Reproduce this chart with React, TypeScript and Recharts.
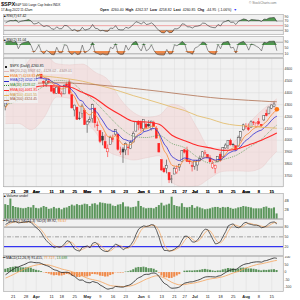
import React from "react";
import {
  ComposedChart,
  Line,
  Area,
  Bar,
  Cell,
  XAxis,
  YAxis,
  CartesianGrid,
  ReferenceLine,
  ReferenceDot,
} from "recharts";

// trading days shown on the chart
const dates = [
  "Mar 16", "Mar 17", "Mar 18", "Mar 21", "Mar 22", "Mar 23", "Mar 24", "Mar 25", "Mar 28", "Mar 29", "Mar 30", "Mar 31",
  "Apr 1", "Apr 4", "Apr 5", "Apr 6", "Apr 7", "Apr 8", "Apr 11", "Apr 12", "Apr 13", "Apr 14", "Apr 18", "Apr 19", "Apr 20", "Apr 21", "Apr 22", "Apr 25", "Apr 26", "Apr 27", "Apr 28", "Apr 29",
  "May 2", "May 3", "May 4", "May 5", "May 6", "May 9", "May 10", "May 11", "May 12", "May 13", "May 16", "May 17", "May 18", "May 19", "May 20", "May 23", "May 24", "May 25", "May 26", "May 27", "May 31",
  "Jun 1", "Jun 2", "Jun 3", "Jun 6", "Jun 7", "Jun 8", "Jun 9", "Jun 10", "Jun 13", "Jun 14", "Jun 15", "Jun 16", "Jun 17", "Jun 21", "Jun 22", "Jun 23", "Jun 24", "Jun 27", "Jun 28", "Jun 29", "Jun 30",
  "Jul 1", "Jul 5", "Jul 6", "Jul 7", "Jul 8", "Jul 11", "Jul 12", "Jul 13", "Jul 14", "Jul 15", "Jul 18", "Jul 19", "Jul 20", "Jul 21", "Jul 22", "Jul 25", "Jul 26", "Jul 27", "Jul 28", "Jul 29",
  "Aug 1", "Aug 2", "Aug 3", "Aug 4", "Aug 5", "Aug 8", "Aug 9", "Aug 10", "Aug 11", "Aug 12", "Aug 15", "Aug 16", "Aug 17",
];

const tickDates = ["Mar 21", "Mar 28", "Apr 1", "Apr 11", "Apr 18", "Apr 25", "May 2", "May 9", "May 16", "May 23", "Jun 1", "Jun 6", "Jun 13", "Jun 21", "Jun 27", "Jul 1", "Jul 11", "Jul 18", "Jul 25", "Aug 1", "Aug 8", "Aug 15"];
const tickLabels = ["21", "28", "Apr", "11", "18", "25", "May", "9", "16", "23", "Jun", "6", "13", "21", "27", "Jul", "11", "18", "25", "Aug", "8", "15"];

const opens = [
  4288, 4345, 4407, 4462, 4469, 4494, 4470, 4523, 4541, 4603, 4624, 4600,
  4541, 4547, 4572, 4495, 4474, 4494, 4462, 4438, 4394, 4449, 4385, 4390, 4473, 4489, 4385, 4255, 4279, 4187, 4223, 4253,
  4131, 4159, 4181, 4271, 4129, 4082, 4035, 3990, 3903, 3963, 4013, 4052, 4052, 3900, 3927, 3919, 3943, 3930, 3985, 4077, 4152,
  4150, 4096, 4137, 4134, 4097, 4148, 4102, 3975, 3838, 3764, 3764, 3729, 3675, 3716, 3733, 3774, 3821, 3920, 3913, 3826, 3786,
  3782, 3792, 3831, 3859, 3889, 3881, 3852, 3770, 3764, 3818, 3883, 3861, 3935, 3955, 4000, 3965, 3954, 3951, 4026, 4088,
  4113, 4105, 4107, 4154, 4116, 4156, 4134, 4171, 4227, 4225, 4269, 4284, 4260.4,
];
const highs = [
  4358, 4412, 4465, 4481, 4522, 4501, 4520, 4546, 4576, 4637, 4627, 4603,
  4547, 4583, 4594, 4503, 4521, 4521, 4464, 4471, 4453, 4453, 4411, 4471, 4489, 4512, 4386, 4299, 4279, 4240, 4308, 4269,
  4169, 4200, 4308, 4271, 4158, 4082, 4069, 4049, 3965, 4039, 4047, 4091, 4052, 3946, 3944, 3982, 3956, 3999, 4075, 4158, 4169,
  4166, 4177, 4143, 4169, 4165, 4164, 4120, 3975, 3839, 3779, 3837, 3729, 3708, 3779, 3790, 3802, 3914, 3928, 3946, 3837, 3819,
  3829, 3832, 3871, 3910, 3918, 3881, 3874, 3829, 3796, 3863, 3902, 3940, 3975, 3999, 4013, 3975, 3954, 4040, 4079, 4140,
  4144, 4141, 4168, 4162, 4151, 4186, 4135, 4211, 4258, 4280, 4301, 4326, 4262.37,
];
const lows = [
  4252, 4336, 4390, 4424, 4469, 4455, 4468, 4501, 4517, 4582, 4589, 4530,
  4507, 4540, 4515, 4450, 4450, 4482, 4409, 4388, 4393, 4392, 4367, 4390, 4455, 4385, 4268, 4201, 4175, 4170, 4189, 4129,
  4063, 4145, 4148, 4107, 4078, 3976, 3958, 3929, 3859, 3963, 3984, 4034, 3913, 3877, 3810, 3875, 3875, 3926, 3985, 4077, 4084,
  4074, 4074, 4096, 4109, 4081, 4111, 4017, 3900, 3744, 3724, 3722, 3640, 3639, 3716, 3717, 3743, 3821, 3889, 3820, 3800, 3738,
  3753, 3743, 3821, 3858, 3872, 3850, 3814, 3759, 3722, 3817, 3819, 3861, 3930, 3926, 3956, 3946, 3911, 3951, 3992, 4080,
  4096, 4079, 4107, 4128, 4107, 4129, 4112, 4163, 4201, 4218, 4262, 4277, 4258.82,
];
const closes = [
  4358, 4412, 4463, 4461, 4512, 4456, 4520, 4543, 4576, 4632, 4602, 4530,
  4546, 4583, 4525, 4481, 4500, 4488, 4413, 4397, 4447, 4393, 4392, 4462, 4459, 4394, 4272, 4296, 4175, 4184, 4288, 4132,
  4155, 4175, 4300, 4147, 4123, 3991, 4001, 3935, 3930, 4024, 4008, 4089, 3924, 3901, 3901, 3974, 3941, 3979, 4058, 4158, 4132,
  4101, 4177, 4109, 4121, 4161, 4116, 4018, 3901, 3750, 3735, 3790, 3667, 3675, 3765, 3760, 3796, 3912, 3900, 3822, 3819, 3785,
  3825, 3831, 3845, 3903, 3899, 3854, 3819, 3802, 3790, 3863, 3831, 3937, 3960, 3999, 3962, 3967, 3921, 4024, 4072, 4130,
  4119, 4091, 4155, 4152, 4145, 4140, 4122, 4210, 4207, 4280, 4297, 4305, 4260.85,
];

const ema7 = [
  4273, 4308, 4347, 4375, 4409, 4421, 4446, 4470, 4497, 4531, 4549, 4544,
  4544, 4554, 4547, 4530, 4523, 4514, 4489, 4466, 4461, 4444, 4431, 4439, 4444, 4431, 4391, 4367, 4319, 4285, 4286, 4247,
  4224, 4212, 4234, 4212, 4190, 4140, 4105, 4063, 4030, 4028, 4023, 4040, 4011, 3983, 3963, 3966, 3960, 3964, 3988, 4030, 4056,
  4067, 4094, 4098, 4104, 4118, 4117, 4092, 4044, 3971, 3912, 3881, 3828, 3790, 3784, 3778, 3782, 3815, 3836, 3832, 3829, 3818,
  3820, 3823, 3828, 3847, 3860, 3858, 3848, 3837, 3825, 3835, 3834, 3859, 3884, 3913, 3925, 3935, 3932, 3955, 3984, 4021,
  4045, 4057, 4081, 4099, 4110, 4118, 4119, 4142, 4158, 4188, 4215, 4238, 4249,
];
const ema12 = [
  4309, 4325, 4346, 4364, 4387, 4398, 4417, 4436, 4458, 4484, 4502, 4507,
  4513, 4524, 4524, 4517, 4515, 4511, 4496, 4481, 4476, 4463, 4452, 4454, 4455, 4445, 4419, 4400, 4365, 4337, 4330, 4299,
  4277, 4261, 4267, 4249, 4229, 4193, 4163, 4128, 4098, 4086, 4074, 4076, 4053, 4030, 4010, 4004, 3995, 3992, 4002, 4026, 4042,
  4051, 4071, 4077, 4084, 4096, 4099, 4086, 4058, 4011, 3968, 3941, 3899, 3864, 3849, 3835, 3829, 3842, 3851, 3846, 3842, 3833,
  3832, 3832, 3834, 3845, 3853, 3853, 3848, 3841, 3833, 3838, 3837, 3852, 3869, 3889, 3900, 3910, 3912, 3929, 3951, 3979,
  4000, 4014, 4036, 4054, 4068, 4079, 4086, 4105, 4121, 4145, 4169, 4190, 4202,
];

// slower overlays read every few sessions
const slowDays = ["Mar 16", "Mar 23", "Mar 30", "Apr 6", "Apr 13", "Apr 21", "Apr 28", "May 5", "May 12", "May 19", "May 26", "Jun 3", "Jun 10", "Jun 17", "Jun 27", "Jul 5", "Jul 12", "Jul 19", "Jul 26", "Aug 2", "Aug 9", "Aug 12", "Aug 17"];
const ma20 = [4300, 4332, 4389, 4455, 4504, 4494, 4411, 4323, 4210, 4103, 4034, 4023, 4040, 3973, 3937, 3857, 3808, 3838, 3872, 3939, 4009, 4071, 4128];
const bbUpper = [4460, 4522, 4689, 4719, 4644, 4634, 4641, 4573, 4510, 4343, 4234, 4193, 4210, 4303, 4267, 4097, 3932, 3937, 4001, 4139, 4249, 4301, 4349];
const bbLower = [4140, 4142, 4089, 4191, 4364, 4354, 4181, 4073, 3910, 3863, 3834, 3853, 3870, 3643, 3607, 3617, 3684, 3739, 3743, 3739, 3769, 3841, 3908];
const ema40 = [4380, 4398, 4437, 4458, 4456, 4448, 4403, 4354, 4275, 4212, 4159, 4154, 4134, 4043, 3996, 3956, 3936, 3915, 3925, 3961, 4001, 4030, 4062];
const ma100 = [4555, 4553, 4545, 4540, 4529, 4515, 4497, 4470, 4443, 4410, 4375, 4345, 4313, 4280, 4250, 4206, 4179, 4144, 4126, 4119, 4109, 4106, 4101];
const ma200 = [4470, 4474, 4478, 4482, 4484, 4482, 4476, 4468, 4458, 4448, 4436, 4424, 4412, 4398, 4385, 4372, 4360, 4350, 4343, 4336, 4330, 4326, 4324];

// volume in billions
const volumes = [
  3.2, 3.0, 4.4, 2.8, 2.6, 2.5, 2.4, 2.3, 2.4, 2.6, 2.5, 3.0,
  2.4, 2.3, 2.5, 2.8, 2.6, 2.2, 2.3, 2.6, 2.3, 2.4, 2.1, 2.4, 2.5, 2.8, 3.1, 2.9, 3.2, 3.0, 3.1, 3.3,
  3.2, 2.8, 3.3, 3.4, 3.1, 3.6, 3.5, 3.4, 3.3, 3.3, 2.9, 2.8, 3.1, 3.2, 3.6, 2.7, 2.7, 2.5, 2.6, 2.7, 3.9,
  2.8, 2.5, 2.3, 2.4, 2.4, 2.3, 2.6, 3.0, 3.5, 2.9, 3.1, 3.3, 4.8, 3.0, 2.8, 2.7, 3.4, 2.6, 2.5, 2.6, 3.0,
  2.4, 2.7, 2.5, 2.3, 2.1, 2.2, 2.3, 2.5, 2.6, 2.6, 2.4, 2.6, 2.5, 2.6, 2.4, 2.2, 2.3, 2.5, 2.6, 2.8,
  2.7, 2.6, 2.5, 2.3, 2.3, 2.3, 2.3, 2.6, 2.7, 2.4, 2.3, 2.5, 1.2,
];

const rsi7 = [
  62, 68, 72, 71, 74, 64, 69, 71, 73, 76, 70, 57,
  59, 64, 53, 46, 50, 47, 37, 34, 45, 37, 37, 51, 50, 41, 29, 34, 26, 28, 43, 31,
  34, 38, 55, 39, 37, 28, 30, 26, 26, 40, 38, 50, 34, 32, 32, 43, 39, 45, 56, 67, 63,
  57, 66, 55, 57, 62, 54, 40, 29, 20, 19, 29, 20, 21, 37, 36, 42, 58, 56, 45, 45, 40,
  47, 48, 51, 61, 60, 51, 45, 42, 41, 55, 49, 65, 68, 73, 64, 65, 55, 69, 74, 79,
  76, 69, 76, 75, 74, 73, 68, 78, 77, 83, 84, 85, 67.42,
];
const rsi2 = [
  92, 97, 98, 88, 95, 45, 78, 87, 92, 96, 65, 20,
  40, 72, 25, 10, 35, 22, 5, 3, 55, 18, 17, 72, 68, 18, 4, 22, 4, 8, 70, 15,
  28, 42, 88, 18, 12, 3, 8, 3, 3, 55, 45, 80, 12, 6, 7, 70, 35, 62, 88, 96, 55,
  30, 80, 30, 42, 72, 33, 8, 3, 1, 1, 40, 8, 12, 72, 65, 78, 96, 80, 20, 18, 7,
  50, 58, 72, 92, 85, 35, 15, 8, 5, 75, 45, 88, 92, 96, 50, 55, 15, 80, 90, 96,
  75, 35, 78, 72, 62, 52, 30, 90, 85, 96, 97, 98, 31.04,
];
const stoK = [
  88, 93, 96, 96, 97, 93, 94, 95, 96, 97, 94, 86,
  78, 72, 62, 48, 38, 30, 24, 16, 20, 18, 20, 28, 38, 36, 24, 12, 8, 6, 18, 20,
  22, 16, 30, 33, 28, 14, 8, 5, 5, 12, 20, 28, 24, 18, 10, 16, 18, 26, 38, 58, 74,
  80, 84, 82, 84, 88, 86, 70, 48, 22, 8, 8, 6, 8, 12, 18, 24, 40, 52, 52, 44, 34,
  34, 40, 52, 66, 74, 72, 58, 42, 28, 30, 36, 52, 66, 84, 88, 90, 80, 78, 82, 92,
  95, 90, 88, 86, 86, 84, 78, 80, 84, 92, 95, 96, 89.92,
];
const stoD = [
  82, 88, 92, 95, 96, 95, 95, 94, 95, 96, 96, 92,
  86, 79, 71, 61, 49, 39, 31, 23, 20, 18, 19, 22, 29, 34, 33, 24, 15, 9, 11, 15,
  20, 19, 23, 26, 30, 25, 17, 9, 6, 7, 12, 20, 24, 23, 17, 15, 15, 20, 27, 41, 57,
  71, 79, 82, 83, 85, 86, 81, 68, 47, 26, 13, 7, 7, 9, 13, 18, 27, 39, 48, 49, 43,
  37, 36, 42, 53, 64, 71, 68, 57, 43, 33, 31, 39, 51, 67, 79, 87, 86, 83, 80, 84,
  90, 92, 91, 88, 87, 85, 83, 81, 81, 85, 90, 94, 93.67,
];
const macd = [
  -18, -6, 8, 18, 30, 34, 41, 48, 55, 64, 67, 64,
  62, 62, 57, 49, 43, 37, 25, 15, 11, 3, -3, -2, -1, -7, -21, -29, -44, -54, -53, -64,
  -70, -72, -63, -68, -73, -87, -96, -107, -114, -110, -107, -96, -98, -100, -100, -93, -89, -81, -68, -50, -38,
  -31, -19, -15, -15, -8, -6, -13, -30, -55, -75, -84, -99, -108, -107, -105, -99, -85, -74, -70, -66, -65,
  -60, -55, -49, -40, -33, -31, -31, -32, -33, -27, -24, -13, -3, 8, 13, 18, 18, 29, 41, 50,
  55, 57, 63, 66, 68, 68, 66, 74, 77, 83, 89, 94, 91.415,
];
const macdSignal = [
  -40, -33, -25, -17, -8, 1, 9, 17, 24, 32, 38, 43,
  47, 50, 51, 51, 49, 47, 42, 37, 31, 26, 20, 16, 12, 8, 2, -4, -12, -21, -27, -34,
  -41, -47, -50, -54, -57, -63, -70, -77, -85, -90, -93, -94, -95, -96, -97, -96, -94, -92, -87, -80, -72,
  -64, -55, -47, -41, -34, -28, -25, -26, -32, -40, -49, -59, -69, -76, -82, -85, -85, -83, -80, -77, -75,
  -72, -68, -64, -59, -54, -49, -46, -43, -41, -38, -35, -31, -25, -19, -12, -6, -1, 5, 12, 20,
  27, 33, 39, 44, 49, 53, 55, 59, 63, 67, 71, 75, 77.727,
];
const macdHist = [
  22, 27, 33, 35, 38, 33, 32, 31, 31, 32, 29, 21,
  15, 12, 6, -2, -6, -10, -17, -22, -20, -23, -23, -18, -13, -15, -23, -25, -32, -33, -26, -30,
  -29, -25, -13, -14, -16, -24, -26, -30, -29, -20, -14, -2, -3, -4, -3, 3, 5, 11, 19, 30, 34,
  33, 36, 32, 26, 26, 22, 12, -4, -23, -35, -35, -40, -39, -31, -23, -14, 0, 9, 10, 11, 10,
  12, 13, 15, 19, 21, 18, 15, 11, 8, 11, 11, 18, 22, 27, 25, 24, 19, 24, 29, 30,
  28, 24, 24, 22, 19, 15, 11, 15, 14, 16, 18, 19, 13.688,
];

const rows = dates.map((d, i) => ({
  i,
  date: d,
  open: opens[i],
  high: highs[i],
  low: lows[i],
  close: closes[i],
  prev: i > 0 ? closes[i - 1] : opens[i],
  ema7: ema7[i],
  ema12: ema12[i],
  vol: volumes[i],
  rsi7: rsi7[i],
  rsi2: rsi2[i],
  k: stoK[i],
  d: stoD[i],
  macd: macd[i],
  signal: macdSignal[i],
  hist: macdHist[i],
}));

const slowRows = slowDays.map((d, n) => ({
  i: dates.indexOf(d),
  ma20: ma20[n],
  bbUp: bbUpper[n],
  bbLo: bbLower[n],
  ema40: ema40[n],
  ma100: ma100[n],
  ma200: ma200[n],
}));

const tickIdx = tickDates.map((d) => dates.indexOf(d));

const FONT = "'Liberation Sans', Arial, sans-serif";
const X_DOMAIN = [-0.6, 108.4];
const BG = "#f1f1f1";

function DateTick(props: any) {
  const { x, y, payload } = props;
  const label = tickLabels[tickIdx.indexOf(payload.value)] ?? "";
  const bold = /^[A-Z]/.test(label);
  return (
    <text x={x} y={y + 4.3} fontSize={4} fontWeight={bold ? 700 : 400} textAnchor="middle" fill="#222" fontFamily={FONT}>
      {label}
    </text>
  );
}

function Candle(props: any) {
  const { x, y, width, height, payload } = props;
  if (x == null || !payload) return null;
  const { open, close, high, low, prev } = payload;
  const yHi = Math.min(y, y + height);
  const yLo = Math.max(y, y + height);
  const span = high - low;
  const k = span > 0 ? (yLo - yHi) / span : 0;
  const cx = x + width / 2;
  const yo = yHi + (high - open) * k;
  const yc = yHi + (high - close) * k;
  const color = close >= prev ? "#3c3c3c" : "#ff2424";
  const hollow = close >= open;
  const top = Math.min(yo, yc);
  const h = Math.max(0.6, Math.abs(yo - yc));
  return (
    <g>
      <line x1={cx} x2={cx} y1={yHi} y2={yLo} stroke={color} strokeWidth={0.6} />
      <rect x={cx - 1} y={top} width={2} height={h} fill={hollow ? "#f7f7f7" : color} stroke={color} strokeWidth={0.45} />
    </g>
  );
}

function Panel({ top, height, data, yDomain, yTicks = [], yFmt, axisH = 0, bg = false, hGrid = false, children }: any) {
  return (
    <div style={{ position: "absolute", left: 0, top, width: 300, height }}>
      <ComposedChart width={300} height={height} data={data} margin={{ top: 0, right: 0, bottom: 0, left: 4 }}>
        {bg && <CartesianGrid fill={BG} stroke="#dcdcdc" strokeWidth={0.5} horizontal={hGrid} />}
        <XAxis
          type="number"
          dataKey="i"
          domain={X_DOMAIN}
          allowDataOverflow
          ticks={tickIdx}
          interval={0}
          height={axisH}
          tick={axisH ? <DateTick /> : false}
          tickLine={false}
          axisLine={false}
          tickSize={0}
        />
        <YAxis
          orientation="right"
          width={17}
          domain={yDomain}
          allowDataOverflow
          ticks={yTicks}
          interval={0}
          tick={yTicks.length ? { fontSize: 3.4, fill: "#333", fontFamily: FONT } : false}
          tickFormatter={yFmt}
          tickLine={false}
          axisLine={false}
          tickSize={0}
          tickMargin={1.5}
        />
        {children}
      </ComposedChart>
    </div>
  );
}

const txt = (left: number, top: number, size = 3.5, extra: any = {}) => ({
  position: "absolute" as const,
  left,
  top,
  fontSize: size,
  lineHeight: 1,
  whiteSpace: "nowrap" as const,
  fontFamily: FONT,
  color: "#111",
  ...extra,
});

const legend = [
  { text: "$SPX (Daily) 4260.85", color: "#111", mark: "box" },
  { text: "BB(20,2.0) 3907.62 - 4128.02 - 4349.01", color: "#a88080", mark: "#e2b8b8" },
  { text: "EMA(7) 4248.83", color: "#f07a1e", mark: "#f07a1e" },
  { text: "EMA(12) 4202.21", color: "#2a2ac8", mark: "#2a2ac8" },
  { text: "MA(20) 4128.02", color: "#2f8a2f", mark: "dot" },
  { text: "EMA(40) 4061.85", color: "#ff2020", mark: "#ff2020" },
  { text: "MA(100) 4101.55", color: "#c89a3c", mark: "#e2b860" },
  { text: "MA(200) 4324.45", color: "#a0583a", mark: "#b07050" },
];

export default function App() {
  const na = { isAnimationActive: false };
  return (
    <div style={{ position: "fixed", left: 0, top: 0, width: 300, height: 300, background: "#fff", overflow: "hidden" }}>
      {/* RSI(7) */}
      <Panel top={14} height={21} data={rows} yDomain={[10, 100]} yTicks={[90, 70, 50, 30]} bg>
        <ReferenceLine y={70} stroke="#666" strokeWidth={0.5} />
        <ReferenceLine y={50} stroke="#f07070" strokeWidth={0.6} />
        <ReferenceLine y={30} stroke="#666" strokeWidth={0.5} />
        <Area dataKey={(r: any) => [70, Math.max(70, r.rsi7)]} type="linear" fill="#4e9a4e" fillOpacity={1} stroke="none" {...na} />
        <Area dataKey={(r: any) => [Math.min(30, r.rsi7), 30]} type="linear" fill="#f08a4a" fillOpacity={1} stroke="none" {...na} />
        <Line dataKey="rsi7" type="linear" stroke="#333" strokeWidth={0.6} dot={false} {...na} />
      </Panel>

      {/* RSI(2) */}
      <Panel top={36} height={22} data={rows} yDomain={[-19, 133]} yTicks={[90, 50, 10]} bg>
        <ReferenceLine y={90} stroke="#666" strokeWidth={0.5} />
        <ReferenceLine y={10} stroke="#666" strokeWidth={0.5} />
        <Area dataKey={(r: any) => [70, Math.max(70, r.rsi2)]} type="linear" fill="#4e9a4e" fillOpacity={1} stroke="none" {...na} />
        <Area dataKey={(r: any) => [Math.min(30, r.rsi2), 30]} type="linear" fill="#f08a4a" fillOpacity={1} stroke="none" {...na} />
        <Line dataKey="rsi2" type="linear" stroke="#333" strokeWidth={0.5} dot={false} {...na} />
      </Panel>

      {/* price: background, bands */}
      <Panel top={58} height={135} data={slowRows} yDomain={[3607, 4692]} yTicks={[4600, 4500, 4400, 4300, 4200, 4100, 4000, 3900, 3800, 3700]} axisH={6} bg hGrid>
        <Area dataKey={(r: any) => [r.bbLo, r.bbUp]} type="monotone" fill="#f2d4d4" fillOpacity={0.55} stroke="#e6c4c4" strokeWidth={0.4} {...na} />
      </Panel>
      {/* price: candles + fast averages */}
      <Panel top={58} height={135} data={rows} yDomain={[3607, 4692]} axisH={6}>
        <Bar dataKey={(r: any) => [r.low, r.high]} barSize={2} shape={<Candle />} {...na} />
        <Line dataKey="ema7" type="monotone" stroke="#f7882f" strokeWidth={0.8} dot={false} {...na} />
        <Line dataKey="ema12" type="monotone" stroke="#2a2ad0" strokeWidth={0.8} dot={false} {...na} />
        <ReferenceDot x={106} y={closes[106]} r={2.3} fill="#ff7410" stroke="none" />
      </Panel>
      {/* price: slow averages */}
      <Panel top={58} height={135} data={slowRows} yDomain={[3607, 4692]} axisH={6}>
        <Line dataKey="ma20" type="monotone" stroke="#3c8c3c" strokeWidth={0.6} strokeDasharray="1 1" dot={false} {...na} />
        <Line dataKey="ema40" type="monotone" stroke="#ff2a2a" strokeWidth={1.1} dot={false} {...na} />
        <Line dataKey="ma100" type="monotone" stroke="#e2b860" strokeWidth={0.8} dot={false} {...na} />
        <Line dataKey="ma200" type="monotone" stroke="#b07050" strokeWidth={0.8} dot={false} {...na} />
      </Panel>

      {/* volume */}
      <Panel top={193} height={26} data={rows} yDomain={[0, 5.6]} yTicks={[4, 2]} yFmt={(v: number) => `${v}B`} bg>
        <Bar dataKey="vol" barSize={2} fill="#5c965c" {...na} />
      </Panel>

      {/* full stochastics */}
      <Panel top={219} height={37} data={rows} yDomain={[-9, 105]} yTicks={[80, 50, 20]} bg>
        <ReferenceLine y={80} stroke="#555" strokeWidth={0.6} />
        <ReferenceLine y={50} stroke="#666" strokeWidth={0.6} strokeDasharray="4 1.5 1 1.5" />
        <ReferenceLine y={20} stroke="#3434f0" strokeWidth={1.3} />
        <Line dataKey="d" type="linear" stroke="#f5a35c" strokeWidth={0.7} dot={false} {...na} />
        <Line dataKey="k" type="linear" stroke="#222" strokeWidth={0.7} dot={false} {...na} />
      </Panel>

      {/* MACD */}
      <Panel top={256} height={44} data={rows} yDomain={[-133, 107]} yTicks={[100, 50, 0, -50, -100]} axisH={8} bg>
        <Bar dataKey="hist" barSize={2} {...na}>
          {rows.map((r) => (
            <Cell key={r.i} fill={r.hist >= 0 ? "#5a925a" : "#f08a4a"} />
          ))}
        </Bar>
        <Line dataKey="signal" type="monotone" stroke="#f5a35c" strokeWidth={0.8} dot={false} {...na} />
        <Line dataKey="macd" type="monotone" stroke="#222" strokeWidth={0.8} dot={false} {...na} />
      </Panel>

      {/* panel frames */}
      <svg width={300} height={300} style={{ position: "absolute", left: 0, top: 0, pointerEvents: "none" }}>
        {[[14, 21], [36, 22], [58, 129], [193, 26], [219, 37], [256, 36]].map(([y, h]) => (
          <rect key={y} x={3.5} y={y + 0.3} width={280} height={h - 0.6} fill="none" stroke="#a9a9a9" strokeWidth={0.6} />
        ))}
      </svg>

      {/* header */}
      <div style={txt(1, 1.8, 5.6, { fontWeight: 700 })}>$SPX</div>
      <div style={txt(15, 3.6, 3.2)}>S&amp;P 500 Large Cap Index INDX</div>
      <div style={txt(249, 1.8, 3.2, { color: "#777" })}>© StockCharts.com</div>
      <div style={txt(1, 9.3, 3.2)}>17-Aug-2022 11:42am</div>
      <div style={txt(100, 9.3, 3.5, { wordSpacing: "1px" })}>
        <b>Open</b> 4260.40 <b>High</b> 4262.37 <b>Low</b> 4258.82 <b>Last</b> 4260.85 <b>Chg</b> -44.95 (-1.06%){" "}
        <span style={{ color: "#3333ff" }}>▼</span>
      </div>

      {/* panel labels */}
      <div style={txt(3, 14.8, 3.5)}>▲RSI(7) 67.42</div>
      <div style={txt(3, 38.8, 3.5)}>▲RSI(2) 31.04</div>
      <div style={{ position: "absolute", left: 4, top: 64.6 }}>
        {legend.map((l) => (
          <div
            key={l.text}
            style={{
              height: 4.75,
              width: "fit-content",
              display: "flex",
              alignItems: "center",
              background: "rgba(241,241,241,0.88)",
              fontSize: 3.5,
              lineHeight: 1,
              fontFamily: FONT,
              color: l.color,
              whiteSpace: "nowrap",
              paddingRight: 0.5,
            }}
          >
            {l.mark === "box" ? (
              <span style={{ display: "inline-block", width: 2.4, height: 2.4, background: "#222", marginLeft: 1, marginRight: 2.6 }} />
            ) : (
              <span
                style={{
                  display: "inline-block",
                  width: 4.5,
                  height: 0,
                  borderTop: l.mark === "dot" ? "0.8px dotted #2f8a2f" : `0.9px solid ${l.mark}`,
                  marginRight: 1.5,
                }}
              />
            )}
            {l.text}
          </div>
        ))}
      </div>
      <div style={txt(3, 194.6, 3.5)}>▲Volume undef</div>
      <div style={txt(3, 220.2, 3.5)}>
        ━ Full STO %K(14,3) %D(3) 89.92, <span style={{ color: "#f08a2a" }}>93.67</span>
      </div>
      <div style={txt(3, 257, 3.5)}>
        ━ MACD(12,26,9) 91.415, <span style={{ color: "#f08a2a" }}>77.727</span>,{" "}
        <span style={{ color: "#3e8a3e" }}>13.688</span>
      </div>
    </div>
  );
}
